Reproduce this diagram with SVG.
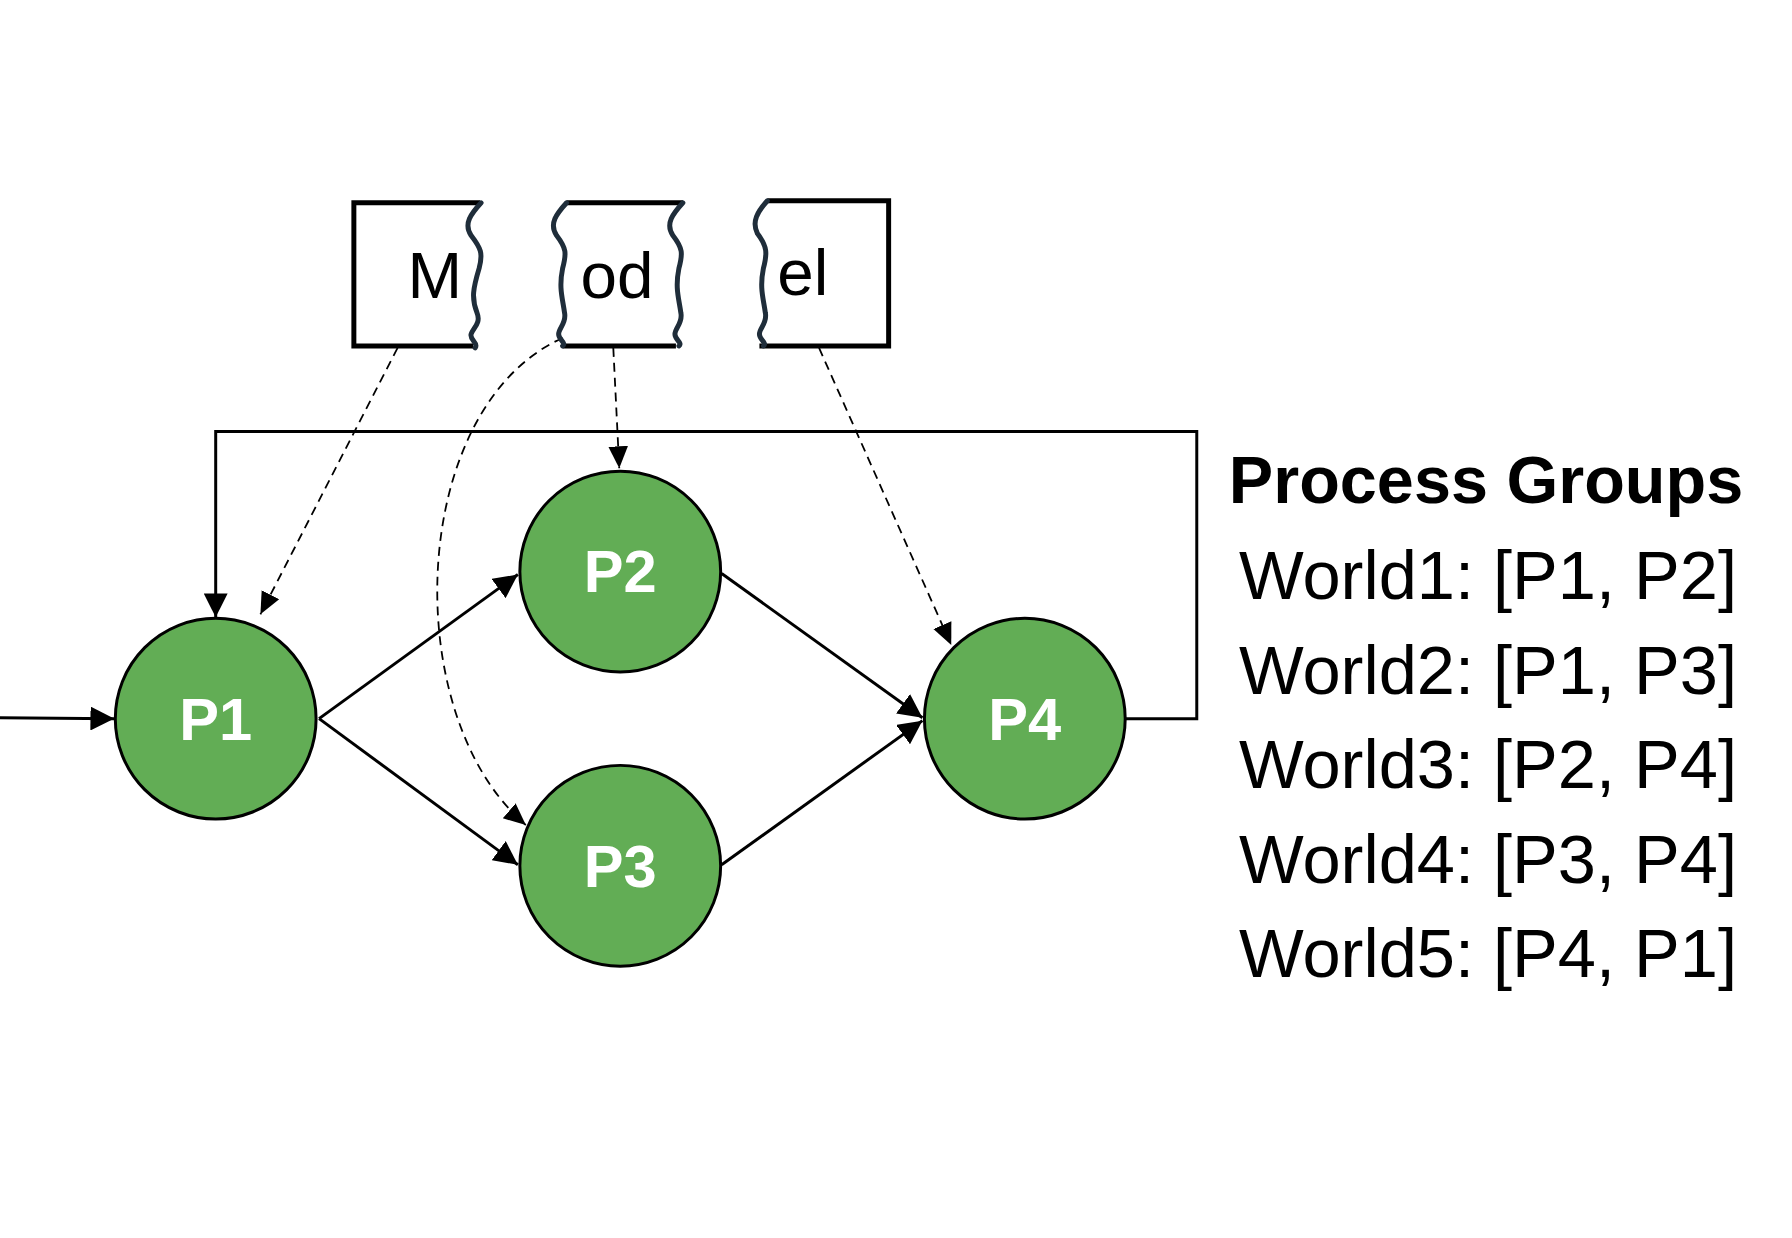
<svg xmlns="http://www.w3.org/2000/svg" width="1792" height="1238" viewBox="0 0 1792 1238">
<style>
.b{stroke:#000;stroke-width:5;fill:none}
.w{stroke:#1f2d3a;stroke-width:5;fill:none;stroke-linecap:round}
.c{fill:#62ad55;stroke:#000;stroke-width:3}
.e{stroke:#000;stroke-width:3;fill:none;marker-end:url(#a)}
.d{stroke:#000;stroke-width:1.8;fill:none;stroke-dasharray:9 6;marker-end:url(#ad)}
.cl{font-family:"Liberation Sans",Arial,sans-serif;font-weight:bold;font-size:60px;fill:#fff;text-anchor:middle}
.bt{font-family:"Liberation Sans",Arial,sans-serif;font-size:66px;fill:#000}
.g{font-family:"Liberation Sans",Arial,sans-serif;font-size:67px;fill:#000;text-anchor:middle}
</style>
<defs><marker id="a" viewBox="0 0 10 10" refX="10" refY="5" markerWidth="8" markerHeight="8" orient="auto"><path d="M0,0L10,5L0,10z" fill="#000"/></marker>
<marker id="ad" viewBox="0 0 10 10" refX="10" refY="5" markerWidth="22" markerHeight="22" markerUnits="userSpaceOnUse" orient="auto"><path d="M0,0.5L10,5L0,9.5z" fill="#000"/></marker></defs>
<rect width="1792" height="1238" fill="#fff"/>
<g transform="scale(0.994)">
<g id="connectors">
<path class="e" d="M0,722 L115,723"/>
<path class="e" d="M321,723 L521,578"/>
<path class="e" d="M321,723 L521,870"/>
<path class="e" d="M726,577 L928,722"/>
<path class="e" d="M726,870 L928,725"/>
<path class="e" d="M1132,723 H1204 V434 H217 V621"/>
<path class="d" d="M400,350 L262,618"/>
<path class="d" d="M617,350 L623,471"/>
<path class="d" d="M824,350 L957,649"/>
<path class="d" d="M566,340 C410,410 400,720 529,830"/>
</g>
<g id="box-M">
<path class="b" d="M483,204 H356 V348 H476"/>
<path class="w" d="M484,204 C474,215 466,225 474,237 C484,250 486,255 482,270 C476,290 474,300 480,315 C484,325 476,330 474,336 C472,342 482,345 478,350"/>
<text class="bt" x="410" y="300">M</text>
</g>
<g id="box-od">
<path class="b" d="M570,204 H687 M566,348 H680"/>
<path class="w" d="M570,204 C560,215 552,225 560,237 C570,250 570,255 566,270 C562,290 566,300 568,315 C570,325 562,330 562,336 C562,342 570,345 566,348"/>
<path class="w" d="M687,204 C677,215 669,225 677,237 C687,250 687,255 683,270 C679,290 683,300 685,315 C687,325 679,330 679,336 C679,342 687,345 683,348"/>
<text class="bt" x="584" y="300">od</text>
</g>
<g id="box-el">
<path class="b" d="M772,202 H894 V348 H764"/>
<path class="w" d="M772,202 C762,213 756,223 762,235 C772,248 772,255 768,270 C764,290 768,300 770,315 C772,325 764,330 764,336 C764,342 772,345 768,348"/>
<text class="bt" x="782" y="297">el</text>
</g>
<g id="P1"><circle class="c" cx="217" cy="723" r="101"/><text class="cl" x="217" y="744">P1</text></g>
<g id="P2"><circle class="c" cx="624" cy="575" r="101"/><text class="cl" x="624" y="596">P2</text></g>
<g id="P3"><circle class="c" cx="624" cy="871" r="101"/><text class="cl" x="624" y="892">P3</text></g>
<g id="P4"><circle class="c" cx="1031" cy="723" r="101"/><text class="cl" x="1031" y="744">P4</text></g>
<g id="legend">
<text class="g" x="1495" y="506" font-weight="bold">Process Groups</text>
<text class="g" style="font-size:69px" x="1497" y="603">World1: [P1, P2]</text>
<text class="g" style="font-size:69px" x="1497" y="698">World2: [P1, P3]</text>
<text class="g" style="font-size:69px" x="1497" y="793">World3: [P2, P4]</text>
<text class="g" style="font-size:69px" x="1497" y="888">World4: [P3, P4]</text>
<text class="g" style="font-size:69px" x="1497" y="983">World5: [P4, P1]</text>
</g>
</g>
</svg>
